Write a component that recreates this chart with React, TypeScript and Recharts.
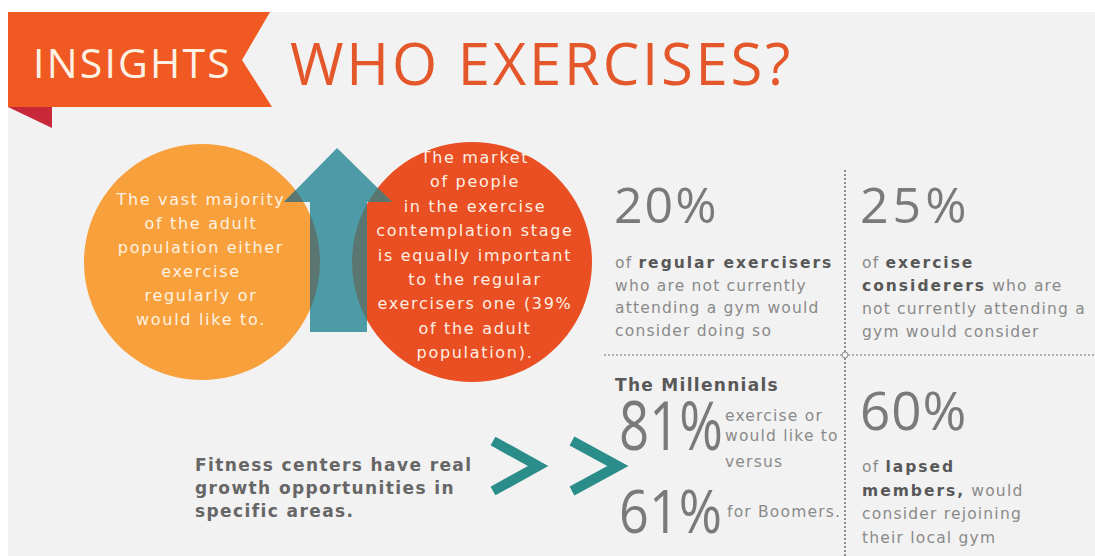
import { Cell, Pie, PieChart } from "recharts";

const W = 1095;
const H = 556;

const bannerLabel = "INSIGHTS";
const headline = "WHO EXERCISES?";

// one full slice per bubble
const exerciserSlices = [{ name: "Exercise regularly or would like to", value: 1 }];
const contemplationSlices = [{ name: "Exercise contemplation stage", value: 1 }];

const exerciserLines = [
  "The vast majority",
  "of the adult",
  "population either",
  "exercise",
  "regularly or",
  "would like to.",
];
const contemplationLines = [
  "The market",
  "of people",
  "in the exercise",
  "contemplation stage",
  "is equally important",
  "to the regular",
  "exercisers one (39%",
  "of the adult",
  "population).",
];
const takeawayLines = ["Fitness centers have real", "growth opportunities in", "specific areas."];

type Seg = { t: string; b?: boolean };

const statValues = [20, 25, 60];
const statCaptions: Seg[][][] = [
  [
    [{ t: "of " }, { t: "regular exercisers", b: true }],
    [{ t: "who are not currently" }],
    [{ t: "attending a gym would" }],
    [{ t: "consider doing so" }],
  ],
  [
    [{ t: "of " }, { t: "exercise", b: true }],
    [{ t: "considerers", b: true }, { t: " who are" }],
    [{ t: "not currently attending a" }],
    [{ t: "gym would consider" }],
  ],
  [
    [{ t: "of " }, { t: "lapsed", b: true }],
    [{ t: "members,", b: true }, { t: " would" }],
    [{ t: "consider rejoining" }],
    [{ t: "their local gym" }],
  ],
];

const generationTitle = "The Millennials";
const millennialShare = 81;
const millennialNote = ["exercise or", "would like to", "versus"];
const boomerShare = 61;
const boomerNote = "for Boomers.";

const sans = "'DejaVu Sans', Verdana, sans-serif";
const title = "'Open Sans', 'Noto Sans', sans-serif";
const bigNum = "'Open Sans', 'Noto Sans', sans-serif";

const ORANGE = "#f8a03c";
const RED = "#e94f22";
const TEAL = "#4d9ba6";
const OVERLAP = "#5b7670";
const GREY = "#8a8a8a";
const DARK = "#585858";

const LEFT = { cx: 202, cy: 262, r: 118 };
const RIGHT = { cx: 472, cy: 262, r: 120 };
const arrowPts = "337,148 392,202 367,202 367,332 310,332 310,202 284,202";

const layer: React.CSSProperties = { position: "absolute", left: 0, top: 0 };

function Caption({ lines, x, y, step }: { lines: Seg[][]; x: number; y: number; step: number }) {
  return (
    <text x={x} y={y} fontFamily={sans} fontSize={15.5} letterSpacing={1.2} fill={GREY}>
      {lines.map((line, i) => (
        <tspan key={i} x={x} y={y + i * step}>
          {line.map((s, j) => (
            <tspan key={j} fontWeight={s.b ? 700 : 400} fill={s.b ? DARK : GREY} letterSpacing={s.b ? 2 : 1.2}>
              {s.t}
            </tspan>
          ))}
        </tspan>
      ))}
    </text>
  );
}

export default function App() {
  return (
    <div style={{ position: "relative", width: W, height: H, background: "#fff", overflow: "hidden" }}>
      <style>{"body{margin:0}"}</style>

      {/* background, banner, headline, stats grid */}
      <svg width={W} height={H} style={layer}>
        <rect x={8} y={12} width={W - 8} height={H - 12} fill="#f2f2f2" />
        <polygon points="8,12 270,12 242,60 272,107 8,107" fill="#f05a22" />
        <polygon points="8,107 52,107 52,128" fill="#c7283a" />
        <text x={33} y={78} fontFamily={title} fontSize={41} fill="#fdf1e4" letterSpacing={2.2}>
          {bannerLabel}
        </text>
        <text x={290} y={85} fontFamily={title} fontSize={58} fill="#e4572b" letterSpacing={2.8}>
          {headline}
        </text>

        <line x1={845} y1={170} x2={845} y2={H} stroke="#8c8c8c" strokeWidth={2} strokeDasharray="2 2" />
        <line x1={604} y1={355} x2={W} y2={355} stroke="#9a9a9a" strokeWidth={1.6} strokeDasharray="2 2" />
        <circle cx={845} cy={355} r={3} fill="#f2f2f2" stroke="#8c8c8c" strokeWidth={1} />

        <text x={614} y={223} fontFamily={bigNum} fontSize={50} fill="#7a7a7a" letterSpacing={2}>
          {statValues[0]}%
        </text>
        <Caption lines={statCaptions[0]} x={615} y={268} step={22.5} />

        <text x={860} y={223} fontFamily={bigNum} fontSize={50} fill="#7a7a7a" letterSpacing={4}>
          {statValues[1]}%
        </text>
        <Caption lines={statCaptions[1]} x={862} y={268} step={23} />

        <text x={860} y={430} fontFamily={bigNum} fontSize={53} fill="#7a7a7a" letterSpacing={1}>
          {statValues[2]}%
        </text>
        <Caption lines={statCaptions[2]} x={862} y={472} step={23.5} />

        <text x={615} y={391} fontFamily={sans} fontSize={17} fontWeight={700} fill={DARK} letterSpacing={1.3}>
          {generationTitle}
        </text>
        <text x={619} y={450} fontFamily={bigNum} fontSize={68} fill="#7a7a7a" textLength={104} lengthAdjust="spacingAndGlyphs">
          {millennialShare}%
        </text>
        {millennialNote.map((t, i) => (
          <text key={t} x={725} y={[421, 441, 467][i]} fontFamily={sans} fontSize={15.5} fill={GREY} letterSpacing={1.2}>
            {t}
          </text>
        ))}
        <text x={619} y={533} fontFamily={bigNum} fontSize={60} fill="#7a7a7a" textLength={103} lengthAdjust="spacingAndGlyphs">
          {boomerShare}%
        </text>
        <text x={727} y={517} fontFamily={sans} fontSize={15.5} fill={GREY} letterSpacing={1.2}>
          {boomerNote}
        </text>

        {takeawayLines.map((t, i) => (
          <text key={t} x={195} y={471 + i * 23} fontFamily={sans} fontSize={17} fontWeight={700} fill="#666" letterSpacing={1.4}>
            {t}
          </text>
        ))}
        <polyline points="493,441 538,466 493,491" fill="none" stroke="#2a8d8a" strokeWidth={10} />
        <polyline points="572,441 618,466 572,491" fill="none" stroke="#2a8d8a" strokeWidth={10} />
      </svg>

      {/* the two bubbles */}
      <div style={layer}>
        <PieChart width={W} height={H} margin={{ top: 0, right: 0, bottom: 0, left: 0 }}>
          <Pie
            data={exerciserSlices}
            dataKey="value"
            nameKey="name"
            cx={LEFT.cx}
            cy={LEFT.cy}
            innerRadius={0}
            outerRadius={LEFT.r}
            startAngle={90}
            endAngle={-270}
            stroke="none"
            isAnimationActive={false}
          >
            {exerciserSlices.map((s) => (
              <Cell key={s.name} fill={ORANGE} />
            ))}
          </Pie>
          <Pie
            data={contemplationSlices}
            dataKey="value"
            nameKey="name"
            cx={RIGHT.cx}
            cy={RIGHT.cy}
            innerRadius={0}
            outerRadius={RIGHT.r}
            startAngle={90}
            endAngle={-270}
            stroke="none"
            isAnimationActive={false}
          >
            {contemplationSlices.map((s) => (
              <Cell key={s.name} fill={RED} />
            ))}
          </Pie>
        </PieChart>
      </div>

      {/* arrow over the bubbles, and the bubble text */}
      <svg width={W} height={H} style={{ ...layer, pointerEvents: "none" }}>
        <defs>
          <clipPath id="leftBubble">
            <circle cx={LEFT.cx} cy={LEFT.cy} r={LEFT.r} />
          </clipPath>
          <clipPath id="rightBubble">
            <circle cx={RIGHT.cx} cy={RIGHT.cy} r={RIGHT.r} />
          </clipPath>
        </defs>
        <polygon points={arrowPts} fill={TEAL} />
        <polygon points={arrowPts} fill={OVERLAP} clipPath="url(#leftBubble)" />
        <polygon points={arrowPts} fill={OVERLAP} clipPath="url(#rightBubble)" />

        {exerciserLines.map((t, i) => (
          <text key={t} x={201} y={205 + i * 24} textAnchor="middle" fontFamily={sans} fontSize={16} fill="#fdf2e2" letterSpacing={1.7}>
            {t}
          </text>
        ))}
        {contemplationLines.map((t, i) => (
          <text key={t + i} x={475} y={163 + i * 24.4} textAnchor="middle" fontFamily={sans} fontSize={16} fill="#fdeee2" letterSpacing={1.7}>
            {t}
          </text>
        ))}
      </svg>
    </div>
  );
}
